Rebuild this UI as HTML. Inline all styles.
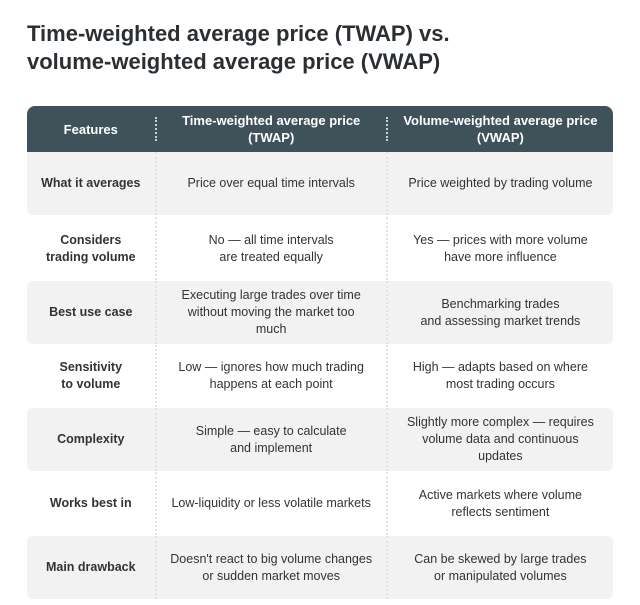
<!DOCTYPE html>
<html><head><style>
body{margin:0;width:640px;height:605px;background:#fff;font-family:"Liberation Sans",sans-serif;position:relative;overflow:hidden}
h1{position:absolute;left:27px;top:20px;margin:0;font-size:22px;line-height:28px;color:#2a2f33;font-weight:bold}
.t{position:absolute;left:27px;width:586px}
.r{position:absolute;left:0;width:586px;display:flex;align-items:center;font-size:12.5px;color:#333;line-height:17px;text-align:center}
.r div{display:flex;align-items:center;justify-content:center;height:100%}
.c1{width:128px}.c2{width:230px;border-left:2px dotted #e2e2e2}.c3{width:226px;border-left:2px dotted #e2e2e2}
.g{background:#f2f2f2;border-radius:6px}
.c1{font-weight:bold;color:#333}
.h{background:#3f5259;color:#fff;font-weight:bold;border-radius:8px 8px 0 0;font-size:13px}
.h .c1{color:#fff}
.h .c2,.h .c3{border-left:2px dotted #c8d0d2;height:24px}
</style></head><body>
<h1>Time-weighted average price (TWAP) vs.<br>volume-weighted average price (VWAP)</h1>
<div class="t">
<div class="r h" style="top:106px;height:46px"><div class="c1">Features</div><div class="c2">Time-weighted average price<br>(TWAP)</div><div class="c3">Volume-weighted average price<br>(VWAP)</div></div>
<div class="r g" style="top:152px;height:63px;border-radius:0 0 6px 6px"><div class="c1">What it averages</div><div class="c2">Price over equal time intervals</div><div class="c3">Price weighted by trading volume</div></div>
<div class="r" style="top:217px;height:63px"><div class="c1">Considers<br>trading volume</div><div class="c2">No — all time intervals<br>are treated equally</div><div class="c3">Yes — prices with more volume<br>have more influence</div></div>
<div class="r g" style="top:281px;height:63px"><div class="c1">Best use case</div><div class="c2">Executing large trades over time<br>without moving the market too<br>much</div><div class="c3">Benchmarking trades<br>and assessing market trends</div></div>
<div class="r" style="top:345px;height:62px"><div class="c1">Sensitivity<br>to volume</div><div class="c2">Low — ignores how much trading<br>happens at each point</div><div class="c3">High — adapts based on where<br>most trading occurs</div></div>
<div class="r g" style="top:408px;height:63px"><div class="c1">Complexity</div><div class="c2">Simple — easy to calculate<br>and implement</div><div class="c3">Slightly more complex — requires<br>volume data and continuous<br>updates</div></div>
<div class="r" style="top:472px;height:63px"><div class="c1">Works best in</div><div class="c2">Low-liquidity or less volatile markets</div><div class="c3">Active markets where volume<br>reflects sentiment</div></div>
<div class="r g" style="top:536px;height:63px"><div class="c1">Main drawback</div><div class="c2">Doesn't react to big volume changes<br>or sudden market moves</div><div class="c3">Can be skewed by large trades<br>or manipulated volumes</div></div>
</div>
</body></html>
